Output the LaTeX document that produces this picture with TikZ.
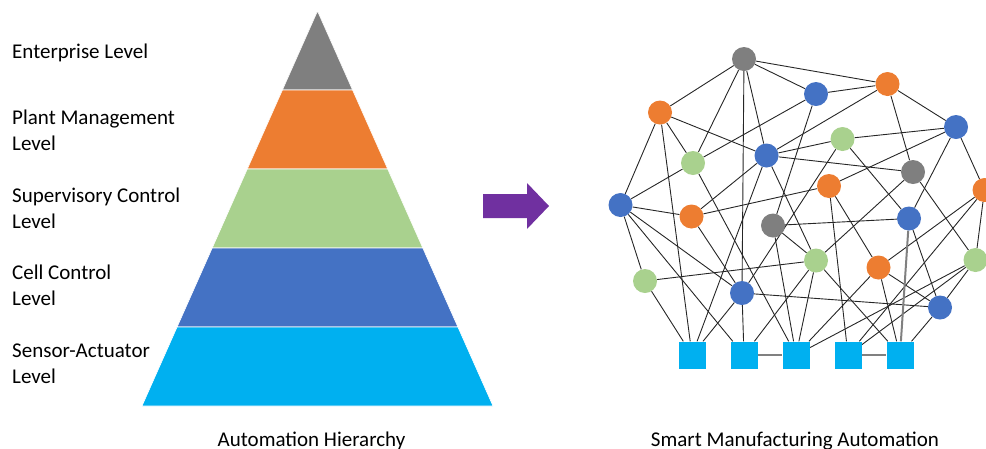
\documentclass[tikz,border=0pt]{standalone}
\usepackage{fontspec}
\setmainfont{Carlito}
\usetikzlibrary{calc,backgrounds}
\definecolor{pgray}{RGB}{127,127,127}
\definecolor{porange}{RGB}{237,125,49}
\definecolor{pgreen}{RGB}{169,209,142}
\definecolor{pblue}{RGB}{68,114,196}
\definecolor{pcyan}{RGB}{0,176,240}
\definecolor{ppurple}{RGB}{112,48,160}

\begin{document}
\begin{tikzpicture}[x=1pt,y=-1pt,
    lvl/.style={anchor=base west,align=left,inner sep=0pt,font=\fontsize{21}{25.5}\selectfont},
    caption/.style={anchor=base,inner sep=0pt,font=\fontsize{21}{25.5}\selectfont},
    dot/.style={circle,minimum size=24pt,inner sep=0pt},
    dev/.style={rectangle,fill=pcyan,minimum size=27pt,inner sep=0pt},
    link/.style={line width=0.9pt,black!85},
    bus/.style={line width=2pt,black!50}]

    \useasboundingbox (0,0) rectangle (986,448);

    % hierarchy pyramid
    \coordinate (apex) at (317.5,11);
    \coordinate (bl) at (142,406);
    \coordinate (br) at (493,406);
    \foreach \t/\b/\c in {0/0.2/pgray,0.2/0.4/porange,0.4/0.6/pgreen,0.6/0.8/pblue,0.8/1/pcyan}
        \filldraw[fill=\c,draw=white,line width=0.6pt] ($(apex)!\t!(bl)$) -- ($(apex)!\b!(bl)$)
            -- ($(apex)!\b!(br)$) -- ($(apex)!\t!(br)$) -- cycle;

    % base is the last line
    \node[lvl] (enterprise) at (12,58) {Enterprise Level};
    \node[lvl] (plant) at (12,150) {Plant Management\\Level};
    \node[lvl] (supervisory) at (12,228) {Supervisory Control\\Level};
    \node[lvl] (cell) at (12,305) {Cell Control\\Level};
    \node[lvl] (sensor) at (12,383) {Sensor-Actuator\\Level};

    % arrow
    \fill[ppurple] (483,194) -- (527,194) -- (527,183) -- (549,206) -- (527,229) -- (527,218) -- (483,218) -- cycle;

    % network
    \node[dot,fill=pgray] (g1) at (744,59) {};
    \node[dot,fill=porange] (o1) at (660,112.5) {};
    \node[dot,fill=pblue] (b1) at (816,94) {};
    \node[dot,fill=porange] (o2) at (887.5,84) {};
    \node[dot,fill=pblue] (b2) at (956,127) {};
    \node[dot,fill=pgreen] (gr1) at (693,163) {};
    \node[dot,fill=pblue] (b3) at (766.5,155.5) {};
    \node[dot,fill=pgreen] (gr2) at (842.5,139) {};
    \node[dot,fill=pgray] (g2) at (913,172) {};
    \node[dot,fill=porange] (o3) at (829,186) {};
    \node[dot,fill=porange] (o4) at (984.5,190) {};
    \node[dot,fill=pblue] (b4) at (620.5,205) {};
    \node[dot,fill=porange] (o5) at (691.5,216.5) {};
    \node[dot,fill=pgray] (g3) at (773,225.5) {};
    \node[dot,fill=pblue] (b5) at (909,218.5) {};
    \node[dot,fill=pgreen] (gr3) at (816,260.5) {};
    \node[dot,fill=porange] (o6) at (878.5,267.5) {};
    \node[dot,fill=pgreen] (gr4) at (975.5,260) {};
    \node[dot,fill=pgreen] (gr5) at (645,281) {};
    \node[dot,fill=pblue] (b6) at (742,293) {};
    \node[dot,fill=pblue] (b7) at (940,307.5) {};

    \node[dev] (s1) at (692,355) {};
    \node[dev] (s2) at (744,355) {};
    \node[dev] (s3) at (796,355) {};
    \node[dev] (s4) at (848,355) {};
    \node[dev] (s5) at (900,355) {};

    \begin{pgfonlayer}{background}
    \foreach \a/\b in {g1/o1,g1/gr1,g1/b3,g1/b6,g1/b1,g1/o2,
        o1/b4,o1/s1,o1/gr1,o1/b3,
        b1/o2,b1/gr1,b1/g3,
        o2/g2,o2/b2,o2/b3,
        b2/gr2,b2/o3,b2/b5,b2/o4,
        gr1/b4,gr1/s3,
        b3/o5,b3/gr2,b3/g2,b3/s1,b3/gr3,
        gr2/b5,gr2/b6,g2/gr3,g2/gr4,
        o3/o5,o3/s4,o3/o6,
        o4/gr4,o4/o6,o4/s4,
        b4/o5,b4/gr5,b4/s2,b4/b6,o5/b6,
        g3/b5,g3/gr3,g3/s3,b5/b7,
        gr3/gr5,gr3/s2,gr3/s3,gr3/s5,
        o6/s3,o6/s5,o6/b7,
        gr4/b7,gr4/s3,gr4/s4,
        gr5/s1,b6/s1,b6/s2,b6/b7,b7/s5}
        \draw[link] (\a) -- (\b);
    \draw[bus] (b5) -- (s5);
    \draw[bus] (s2) -- (s3);
    \draw[bus] (s4) -- (s5);
    \end{pgfonlayer}

    \node[caption] (hierarchy) at (311.5,446) {Automation Hierarchy};
    \node[caption] (smart) at (795,446) {Smart Manufacturing Automation};
\end{tikzpicture}
\end{document}
